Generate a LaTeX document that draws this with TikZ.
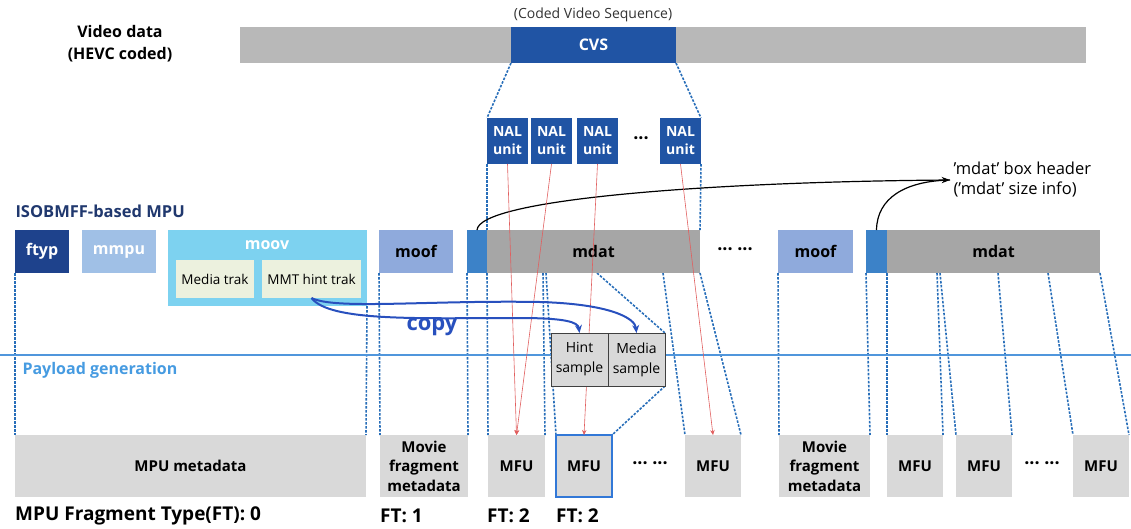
\documentclass[tikz,border=0pt]{standalone}
\usepackage{fontspec}
\setmainfont{Open Sans}
\usetikzlibrary{arrows.meta,backgrounds}
\definecolor{streamgray}{RGB}{184,184,184}
\definecolor{cvsblue}{RGB}{32,84,164}
\definecolor{ftypblue}{RGB}{30,66,140}
\definecolor{mmpublue}{RGB}{160,192,230}
\definecolor{moovcyan}{RGB}{125,210,240}
\definecolor{trakfill}{RGB}{236,241,222}
\definecolor{moofblue}{RGB}{143,170,220}
\definecolor{hdrblue}{RGB}{60,130,200}
\definecolor{mdatgray}{RGB}{166,166,166}
\definecolor{fraggray}{RGB}{217,217,217}
\definecolor{cutblue}{RGB}{40,110,185}
\definecolor{lineblue}{RGB}{80,150,220}
\definecolor{payblue}{RGB}{70,155,225}
\definecolor{isoblue}{RGB}{32,56,110}
\definecolor{copyblue}{RGB}{40,80,190}
\definecolor{nalred}{RGB}{225,95,95}
\definecolor{hlblue}{RGB}{50,120,215}
\begin{document}
\begin{tikzpicture}[x=1pt,y=-1pt,>=Stealth,
    box/.style={anchor=north west,inner sep=0pt,outer sep=0pt,align=center,font=\bfseries\fontsize{16}{19}\selectfont},
    nal/.style={box,fill=cvsblue,text=white,minimum width=41pt,minimum height=46pt,font=\bfseries\fontsize{14}{18}\selectfont},
    frag/.style={box,fill=fraggray,minimum height=62pt,font=\bfseries\fontsize{15}{19.5}\selectfont},
    trak/.style={box,fill=trakfill,minimum height=38pt,font=\fontsize{13.5}{16}\selectfont},
    sample/.style={box,fill=fraggray,draw=black!75,line width=1pt,minimum width=57pt,minimum height=53pt,font=\fontsize{14}{20}\selectfont},
    ftlbl/.style={anchor=west,inner sep=0pt,font=\bfseries\fontsize{19}{21}\selectfont},
    dots/.style={font=\bfseries\fontsize{18}{20}\selectfont},
    cut/.style={draw=cutblue,line width=1.6pt,dash pattern=on 2.5pt off 1.5pt},
    nalline/.style={draw=nalred,line width=0.6pt,-{Stealth[length=5pt,width=4.5pt]}},
    copyline/.style={draw=copyblue,line width=2pt,-{Stealth[length=8pt,width=7pt]}}]
\useasboundingbox (0,0) rectangle (1131,528);

\node[font=\bfseries\fontsize{16}{22}\selectfont,align=center] (videolbl) at (120,44) {Video data\\(HEVC coded)};
\node[box,fill=streamgray,minimum width=846pt,minimum height=36pt] (stream) at (240,27) {};
\node[box,fill=cvsblue,text=white,minimum width=165pt,minimum height=36pt] (cvs) at (511,27) {CVS};
\node[font=\fontsize{14}{16}\selectfont,text=black!80] (cvslbl) at (593,15) {(Coded Video Sequence)};

\foreach \n/\x in {1/487,2/531,3/577,4/660}
    \node[nal] (nal\n) at (\x,118) {NAL\\unit};
\node[dots] (naldots) at (641,141) {···};

\node[font=\fontsize{16.5}{20}\selectfont,anchor=west,align=left] (hdrnote) at (950,180) {’mdat’ box header\\(’mdat’ size info)};

\node[font=\bfseries\fontsize{16.5}{19}\selectfont,text=isoblue,anchor=west] (isolbl) at (12,211) {ISOBMFF-based MPU};
\node[box,fill=ftypblue,text=white,minimum width=54pt,minimum height=43pt] (ftyp) at (15,230) {ftyp};
\node[box,fill=mmpublue,text=white,minimum width=74pt,minimum height=43pt] (mmpu) at (82,230) {mmpu};
\node[box,fill=moovcyan,minimum width=199pt,minimum height=76pt] (moov) at (168,230) {};
\node[font=\bfseries\fontsize{16}{19}\selectfont,text=white] (moovlbl) at (267,245) {moov};
\node[trak,minimum width=78pt] (mediatrak) at (176,260) {Media trak};
\node[trak,minimum width=99pt] (hinttrak) at (262,260) {MMT hint trak};
\node[box,fill=moofblue,minimum width=74pt,minimum height=43pt] (moof) at (379,230) {moof};
\node[box,fill=hdrblue,minimum width=20pt,minimum height=43pt] (hdr) at (467,230) {};
\node[box,fill=mdatgray,minimum width=213pt,minimum height=43pt] (mdat) at (487,230) {mdat};
\node[dots] (mdatdots) at (735,252) {··· ···};
\node[box,fill=moofblue,minimum width=75pt,minimum height=43pt] (moof2) at (778,230) {moof};
\node[box,fill=hdrblue,minimum width=21pt,minimum height=43pt] (hdr2) at (866,230) {};
\node[box,fill=mdatgray,minimum width=213pt,minimum height=43pt] (mdat2) at (887,230) {mdat};

\draw[->,line width=1.2pt] (hdr.north) .. controls (479,200) and (700,182) .. (hdrnote.west);
\draw[line width=1.2pt] (hdr2.north) .. controls (877,198) and (905,181) .. (hdrnote.west);

\node[frag,minimum width=351pt] (mpumeta) at (15,435) {MPU metadata};
\node[frag,minimum width=88pt] (mfmeta) at (380,435) {Movie\\fragment\\metadata};
\node[frag,minimum width=57pt] (mfu1) at (488,435) {MFU};
\node[frag,minimum width=56pt,draw=hlblue,line width=2.8pt] (mfu2) at (556,435) {MFU};
\node[dots] (mfudots) at (650,466) {··· ···};
\node[frag,minimum width=56pt] (mfu3) at (685,435) {MFU};
\node[frag,minimum width=91pt] (mfmeta2) at (779,435) {Movie\\fragment\\metadata};
\foreach \n/\x in {4/887,5/956,6/1073}
    \node[frag,minimum width=56pt] (mfu\n) at (\x,435) {MFU};
\node[dots] (mfudots2) at (1042,466) {··· ···};

\node[ftlbl] (ft0) at (15,516) {MPU Fragment Type(FT): 0};
\node[ftlbl] (ft1) at (380,516) {FT: 1};
\node[ftlbl] (ft2) at (487,516) {FT: 2};
\node[ftlbl] (ft3) at (556,516) {FT: 2};

\draw[lineblue,line width=1.3pt] (0,355) -- (1131,355);
\node[font=\bfseries\fontsize{16}{18}\selectfont,text=payblue,anchor=west] (paylbl) at (19,370) {Payload generation};

\draw[nalline] (nal1.south) -- (mfu1.north);
\draw[nalline] (nal2.south) -- (mfu1.north);
\draw[nalline] (nal3.south) -- (mfu2.north);
\draw[nalline] (nal4.south) -- (mfu3.north);

\node[sample] (hint) at (551,333) {Hint\\sample};
\node[sample] (media) at (608,333) {Media\\sample};

\node[font=\bfseries\fontsize{22}{24}\selectfont,text=copyblue] (copylbl) at (432,327) {copy};
\draw[copyline] (hinttrak.south) .. controls (330,322) and (420,318) .. (520,318) .. controls (565,318) and (578,322) .. (hint.north);
\draw[copyline] (hinttrak.south) .. controls (335,310) and (430,300) .. (540,302) .. controls (610,304) and (635,318) .. (media.north);

\begin{scope}[on background layer]
\coordinate (m1) at (543,273);
\coordinate (m2) at (546,273);
\coordinate (m3) at (597,273);
\coordinate (m4) at (663,273);
\coordinate (n1) at (937,273);
\coordinate (n2) at (940,273);
\coordinate (n3) at (998,273);
\coordinate (n4) at (1048,273);
\draw[cut] (cvs.south west) -- (nal1.north west);
\draw[cut] (cvs.south east) -- (nal4.north east);
\draw[cut] (nal1.south west) -- (mdat.north west);
\draw[cut] (nal4.south east) -- (mdat.north east);
\draw[cut] (ftyp.south west) -- (mpumeta.north west);
\draw[cut] (moov.south east) -- (mpumeta.north east);
\draw[cut] (moof.south west) -- (mfmeta.north west);
\draw[cut] (hdr.south west) -- (mfmeta.north east);
\draw[cut] (hdr.south east) -- (mfu1.north west);
\draw[cut] (m1) -- (mfu1.north east);
\draw[cut] (m2) -- (mfu2.north west);
\draw[cut] (m3) -- (media.north east);
\draw[cut] (media.south east) -- (mfu2.north east);
\draw[cut] (m4) -- (mfu3.north west);
\draw[cut] (mdat.south east) -- (mfu3.north east);
\draw[cut] (moof2.south west) -- (mfmeta2.north west);
\draw[cut] (hdr2.south west) -- (mfmeta2.north east);
\draw[cut] (hdr2.south east) -- (mfu4.north west);
\draw[cut] (n1) -- (mfu4.north east);
\draw[cut] (n2) -- (mfu5.north west);
\draw[cut] (n3) -- (mfu5.north east);
\draw[cut] (n4) -- (mfu6.north west);
\draw[cut] (mdat2.south east) -- (mfu6.north east);
\end{scope}
\end{tikzpicture}
\end{document}
